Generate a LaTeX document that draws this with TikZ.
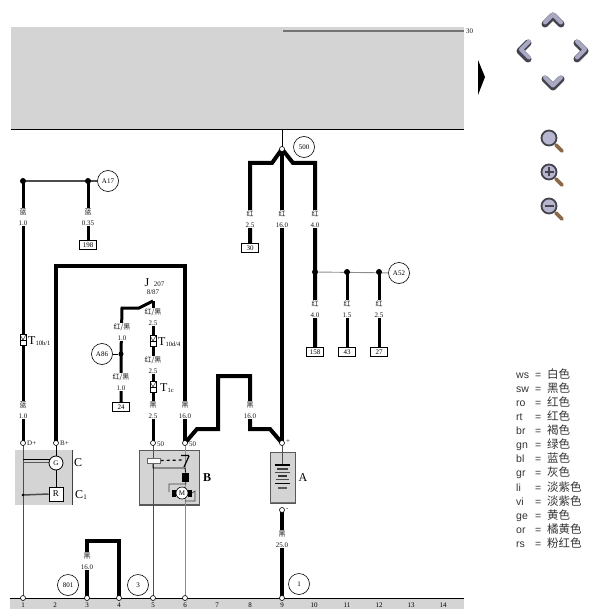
\documentclass[tikz,border=0pt]{standalone}
\usepackage{fontspec}
\setmainfont{Liberation Serif}
\newfontfamily\hzfont{Noto Sans CJK SC}
\newfontfamily\legfont{Liberation Sans}
\usetikzlibrary{backgrounds}
\newcommand{\hanzi}[1]{{\hzfont #1}}
\definecolor{bandgray}{HTML}{D4D4D4}
\definecolor{chevlight}{HTML}{A9A9C6}
\definecolor{chevdark}{HTML}{44444E}
\definecolor{handlebrown}{HTML}{8A6A48}
\tikzset{
  wirefat/.style={line width=4pt,line join=miter},
  wiremid/.style={line width=3pt,line join=miter},
  wirethin/.style={line width=0.9pt,draw=black!70},
  wirepale/.style={line width=0.9pt,draw=black!45},
  wlabel/.style={fill=white,inner sep=0.6pt,align=center,font=\fontsize{7}{10.5}\selectfont,text=black!90},
  openj/.style={circle,draw,fill=white,inner sep=0pt,minimum size=5pt,line width=0.6pt},
  dotj/.style={circle,fill=black,inner sep=0pt,minimum size=6pt},
  refc/.style={circle,draw,line width=0.6pt,inner sep=0pt,minimum size=21pt,font=\fontsize{7}{8}\selectfont},
  pinbox/.style={rectangle,draw,fill=white,inner sep=0pt,minimum width=17pt,minimum height=9pt,line width=0.6pt,font=\fontsize{7}{8}\selectfont},
  conn/.style={rectangle,draw,fill=white,inner sep=0pt,minimum width=6pt,minimum height=11pt,line width=0.6pt,
    path picture={\draw[line width=0.4pt] (path picture bounding box.north west) -- (path picture bounding box.center) -- (path picture bounding box.north east);
      \draw[line width=0.4pt] (path picture bounding box.west) -- (path picture bounding box.east);}},
  small/.style={inner sep=0pt,font=\fontsize{7}{8}\selectfont,text=black!90},
  big/.style={inner sep=0pt,font=\fontsize{12}{13}\selectfont},
  leg/.style={inner sep=0pt,anchor=base west,font=\legfont\fontsize{10.5}{12}\selectfont,text=black!80},
  band/.style={fill=bandgray,draw=none},
  chevback/.style={line width=7pt,draw=chevdark,line join=round,line cap=round},
  chevfront/.style={line width=4pt,draw=chevlight,line join=round,line cap=round},
  lens/.style={circle,draw=chevdark,line width=1.8pt,fill=chevlight!85,inner sep=0pt,minimum size=15pt},
  handle/.style={line width=3.6pt,draw=handlebrown,line cap=round},
}
\newcommand{\connlabel}[5]{\node[big,anchor=west] (#1) at (#2,#3) {T\raisebox{-1pt}{\fontsize{6.5}{7}\selectfont #4}};}
\begin{document}
\begin{tikzpicture}[x=1pt,y=-1pt]
\useasboundingbox (0,0) rectangle (601,609);

% ---- junction and reference nodes
\node[openj] (j500) at (282,149) {};
\node[refc] (c500) at (304,147) {500};
\node[openj] (jd) at (23,443) {};
\node[openj] (jb) at (56,443) {};
\node[openj] (j50a) at (153,443) {};
\node[openj] (j50b) at (185,443) {};
\node[openj] (jplus) at (282,443) {};
\node[openj] (jminus) at (282,510) {};
\node[openj] (g1) at (23,598) {};
\node[openj] (g3) at (87,598) {};
\node[openj] (g4) at (119,598) {};
\node[openj] (g5) at (153,598) {};
\node[openj] (g6) at (185,598) {};
\node[openj] (g9) at (282,598) {};
\node[refc] (c801) at (68,585) {801};
\node[refc] (c3) at (138,585) {3};
\node[refc] (c1) at (299,584) {1};
\node[refc] (ca17) at (108,181) {A17};
\node[refc] (ca86) at (102,354) {A86};
\node[refc] (ca52) at (399,273) {A52};
\node[dotj] (d1) at (23,181) {};
\node[dotj] (d2) at (88,181) {};
\node[dotj,minimum size=5pt] (d3) at (121,354) {};
\node[dotj] (d4) at (315,272) {};
\node[dotj] (d5) at (347,272) {};
\node[dotj] (d6) at (379,272) {};
\node[pinbox] (p198) at (88,245) {198};
\node[pinbox] (p24) at (121,407) {24};
\node[pinbox] (p30) at (250,248) {30};
\node[pinbox] (p158) at (315,352) {158};
\node[pinbox] (p43) at (347,352) {43};
\node[pinbox] (p27) at (379,352) {27};
\node[conn] (t1) at (23,340) {};
\node[conn] (t2) at (153,341) {};
\node[conn] (t3) at (153,387) {};
\connlabel{t1l}{28}{341}{10b/1}{}
\connlabel{t2l}{158}{342}{10d/4}{}
\connlabel{t3l}{160}{388}{1c}{}
% ---- wire labels
\node[wlabel] at (23,217) {\hanzi{蓝}\\1.0};
\node[wlabel] at (88,217) {\hanzi{蓝}\\0.35};
\node[wlabel] at (23,410) {\hanzi{蓝}\\1.0};
\node[wlabel] at (122,332) {\hanzi{红/黑}\\1.0};
\node[wlabel] at (121,382) {\hanzi{红/黑}\\1.0};
\node[wlabel] at (153,317) {\hanzi{红/黑}\\2.5};
\node[wlabel] at (153,365) {\hanzi{红/黑}\\2.5};
\node[wlabel] at (153,410) {\hanzi{黑}\\2.5};
\node[wlabel] at (185,410) {\hanzi{黑}\\16.0};
\node[wlabel] at (250,410) {\hanzi{黑}\\16.0};
\node[wlabel] at (87,561) {\hanzi{黑}\\16.0};
\node[wlabel] at (282,539) {\hanzi{黑}\\25.0};
\node[wlabel] at (250,219) {\hanzi{红}\\2.5};
\node[wlabel] at (282,219) {\hanzi{红}\\16.0};
\node[wlabel] at (315,219) {\hanzi{红}\\4.0};
\node[wlabel] at (315,309) {\hanzi{红}\\4.0};
\node[wlabel] at (347,309) {\hanzi{红}\\1.5};
\node[wlabel] at (379,309) {\hanzi{红}\\2.5};
% ---- terminal text
\node[small,anchor=west] at (27,443) {D+};
\node[small,anchor=west] at (60,443) {B+};
\node[small,anchor=west] at (157,444) {50};
\node[small,anchor=west] at (189,444) {50};
\node[small,anchor=west] at (286,442) {+};
\node[small,anchor=west] at (286,510) {-};
\node[small,anchor=west] at (466,31) {30};
\node[big] at (147,283) {J};
\node[small] at (159,284) {207};
\node[small] at (153,292) {8/87};
\node[big] at (78,463) {C};
\node[big] at (81,495) {C\raisebox{-1pt}{\fontsize{7}{8}\selectfont 1}};
\node[big,font=\bfseries\fontsize{12}{13}\selectfont] at (207,478) {B};
\node[big] at (303,478) {A};
% ---- bottom numbers
\foreach \n/\x in {1/23,2/55,3/87,4/119,5/153,6/185,7/217,8/250,9/282,10/314,11/347,12/379,13/411,14/443}
  \node[small,text=black] at (\x,605) {\n};
% ---- component symbols (front)
\node[circle,draw,fill=white,inner sep=0pt,minimum size=14pt,line width=0.8pt,font=\fontsize{7}{8}\selectfont] (gen) at (56,463) {G};
\node[rectangle,draw,fill=white,inner sep=0pt,minimum width=14pt,minimum height=14pt,line width=0.8pt,font=\fontsize{9}{10}\selectfont] (reg) at (56,494) {R};
\node[rectangle,draw=black!60,fill=white,inner sep=0pt,minimum width=13pt,minimum height=5pt] (relay) at (154,460.5) {};
\node[rectangle,fill=black,inner sep=0pt,minimum width=7pt,minimum height=9pt] (coil) at (185.5,477) {};
\node[circle,draw,fill=white,inner sep=0pt,minimum size=12pt,line width=0.6pt,font=\fontsize{7}{8}\selectfont] (motor) at (182,493) {M};
\node[rectangle,fill=black,inner sep=0pt,minimum width=4pt,minimum height=7pt] (brl) at (174,493) {};
\node[rectangle,fill=black,inner sep=0pt,minimum width=4pt,minimum height=7pt] (brr) at (190,493) {};
% ---- legend
\foreach \y/\k/\v in {375/ws/白色,389/sw/黑色,403/ro/红色,417/rt/红色,431/br/褐色,445/gn/绿色,459/bl/蓝色,473/gr/灰色,488/li/淡紫色,502/vi/淡紫色,516/ge/黄色,530/or/橘黄色,544/rs/粉红色}{
  \node[leg] at (516,\y+3) {\k};
  \node[leg] at (535,\y+3) {=};
  \node[leg,font=\fontsize{11.5}{12}\selectfont] at (547,\y+3.5) {\hanzi{\v}};
}
% ---- navigation icons
\draw[chevback] (545,24) -- (553,16) -- (561,24);
\draw[chevfront] (545,22.5) -- (553,14.5) -- (561,22.5);
\draw[chevback] (528,43) -- (520,51) -- (528,59);
\draw[chevfront] (529,41.5) -- (521,49.5) -- (529,57.5);
\draw[chevback] (577,43) -- (585,51) -- (577,59);
\draw[chevfront] (577,41.5) -- (585,49.5) -- (577,57.5);
\draw[chevback] (545,79) -- (553,87) -- (561,79);
\draw[chevfront] (545,77.5) -- (553,85.5) -- (561,77.5);
\foreach \cy in {138,172,206}{
  \draw[handle] (556,\cy+7) -- (562,\cy+13);
  \node[lens] at (549,\cy) {};
}
\draw[line width=1.6pt,chevdark] (544.5,172) -- (553.5,172) (549,167.5) -- (549,176.5);
\draw[line width=1.6pt,chevdark] (544.5,206) -- (553.5,206);
% ---- background: bands, boxes, wires
\begin{scope}[on background layer]
\fill[band] (11,27) rectangle (464,129);
\draw[line width=0.9pt] (11,129) -- (464,129);
\draw[line width=1.6pt,black!55] (283,31) -- (464,31);
\fill[band] (10,598) rectangle (464,609);
\draw[line width=0.9pt] (10,598) -- (464,598);
\fill (478,60) -- (485,77) -- (478,95) -- cycle;
\fill[band] (15,450) rectangle (72,505);
\draw[line width=0.8pt,black!75] (72,450) -- (72,505);
\draw[fill=bandgray,draw=black!65,line width=0.8pt] (139,450) rectangle (199,505);
\draw[line width=1.4pt,black!65] (139,504.5) -- (199,504.5);
\draw[fill=bandgray,draw=black!65,line width=0.6pt] (270,452) rectangle (295,503);
\draw[line width=1.5pt,black!55] (270,502.5) -- (295,502.5);
% top wires
\draw[line width=0.8pt] (282,129) -- (j500.center);
\draw[wirefat] (j500.center) -- (272,163) -- (250,163) -- (p30.north);
\draw[wirefat] (j500.center) -- (293,163) -- (315,163) -- (p158.north);
\draw[wirefat] (j500.center) -- (jplus.center);
\draw[wirepale] (d4) -- (ca52);
\draw[wiremid] (d5.center) -- (p43.north);
\draw[wiremid] (d6.center) -- (p27.north);
% left wires
\draw[line width=1.6pt,black!70] (d1) -- (ca17);
\draw[wiremid] (d1.center) -- (jd.center);
\draw[wiremid] (d2.center) -- (p198.north);
\draw[wirefat] (jb.center) -- (56,266) -- (185,266) -- (j50b.center);
\draw[wirefat] (j50b.center) -- (197,429) -- (218,429) -- (218,376) -- (250,376) -- (250,429) -- (270,429) -- (jplus.center);
\draw[wiremid] (153,301) -- (t2.north);
\draw[wiremid] (t2.south) -- (t3.north);
\draw[wiremid] (t3.south) -- (j50a.center);
\draw[wiremid] (153,301) -- (139,308) -- (122,308) -- (d3.center) -- (p24.north);
\draw[line width=0.8pt] (d3) -- (ca86);
% bottom wires
\draw[wirefat] (g3.center) -- (87,541) -- (119,541) -- (g4.center);
\draw[wirefat] (jminus.center) -- (g9.center);
\draw[wirethin] (jd.center) -- (g1.center);
\draw[wirethin] (j50a.center) -- (g5.center);
\draw[wirepale] (j50b.center) -- (g6.center);
% component C
\draw[line width=0.8pt] (jb.center) -- (gen.north);
\draw[line width=0.8pt] (gen.south) -- (reg.north);
\draw[line width=0.8pt] (23,459) -- (50,459);
\draw[line width=0.8pt,black!65] (23,462) -- (50,462);
\draw[line width=1.5pt,black!70] (23,495) -- (reg.west);
\fill (23,495) circle (1.3pt);
% component B
\draw[dashed,line width=1.2pt] (relay.east) -- (184,460);
\draw[line width=0.7pt] (153,463) -- (153,468) -- (185,468) -- (coil.north);
\draw[line width=1.2pt] (181,455.5) -- (189,455.5) (189,456) -- (184,467);
\draw[line width=0.7pt,black!75] (169,492) -- (169,484) -- (186,484) -- (coil.south);
\draw[line width=0.7pt,black!75] (brr.east) -- (195,491) -- (195,501) -- (185,501);
% component A
\draw[line width=0.7pt,black!70] (jplus.center) -- (282,465);
\draw[line width=1.3pt] (275,465) -- (290,465);
\draw[line width=1.1pt,black!75] (277,469) -- (288,469);
\draw[line width=1pt,black!70] (275,472.5) -- (290,472.5);
\draw[line width=1.6pt,black!80] (278,476) -- (287,476);
\draw[line width=1pt,black!70] (276,479.5) -- (289,479.5);
\draw[line width=1.1pt] (275,483.5) -- (290,483.5);
\draw[line width=1.1pt,black!65] (278,488) -- (287,488);
\end{scope}
\end{tikzpicture}
\end{document}
